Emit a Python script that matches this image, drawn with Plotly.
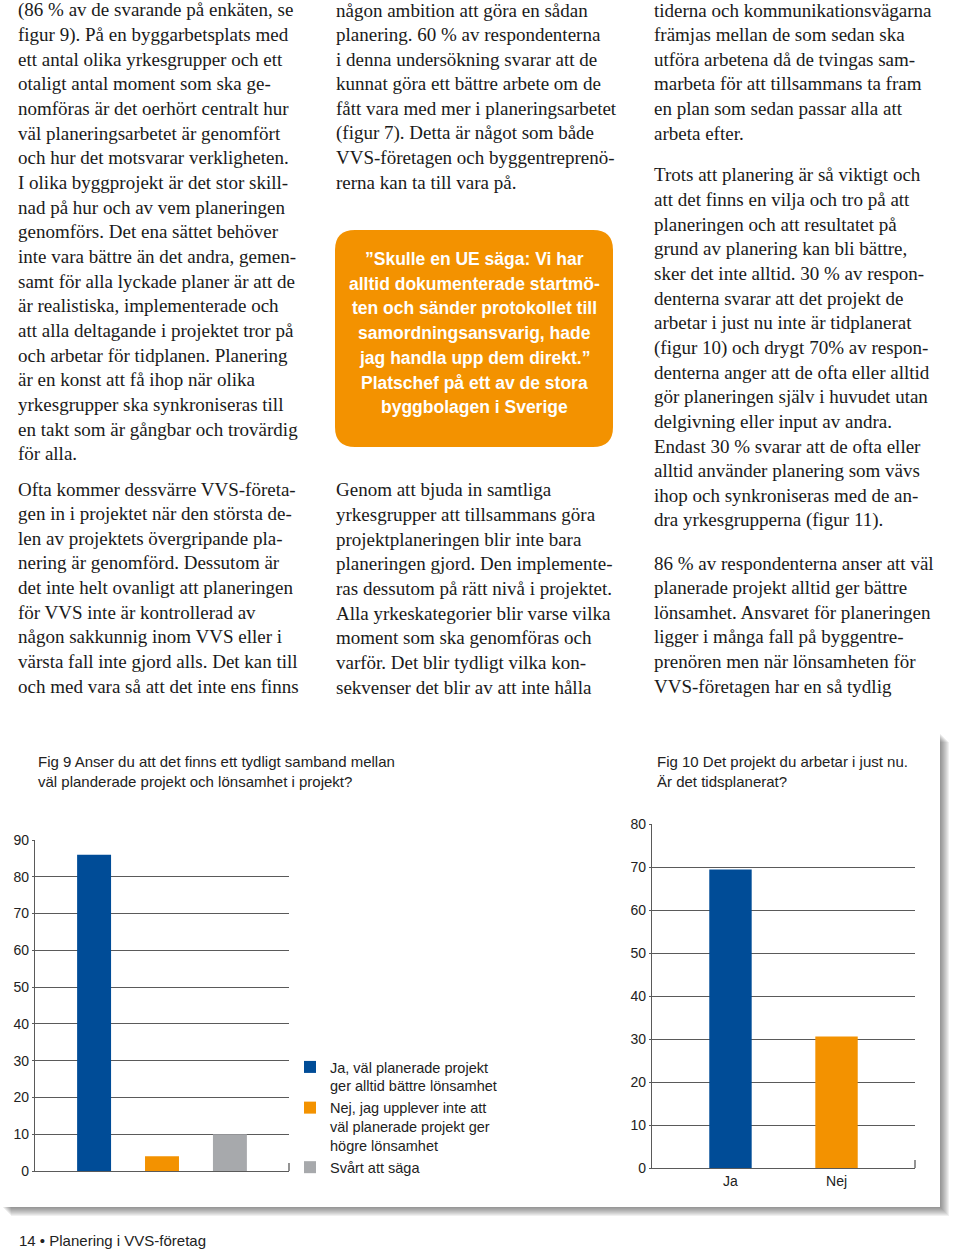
import plotly.graph_objects as go

W, H = 960, 1252


def px(x):
    return x / W


def py(y):
    return 1 - y / H


# ---------------- data ----------------
fig9_categories = ["Ja", "Nej", "Svårt att säga"]
fig9_legend = [
    "Ja, väl planerade projekt<br>ger alltid bättre lönsamhet",
    "Nej, jag upplever inte att<br>väl planerade projekt ger<br>högre lönsamhet",
    "Svårt att säga",
]
fig9_values = [86, 4, 10]
fig9_yticks = [0, 10, 20, 30, 40, 50, 60, 70, 80, 90]

fig10_categories = ["Ja", "Nej"]
fig10_values = [69.4, 30.6]
fig10_yticks = [0, 10, 20, 30, 40, 50, 60, 70, 80]

fig9_title = ["Fig 9 Anser du att det finns ett tydligt samband mellan",
              "väl planderade projekt och lönsamhet i projekt?"]
fig10_title = ["Fig 10 Det projekt du arbetar i just nu.",
               "Är det tidsplanerat?"]

# body text (page layout)
col1_p1 = [
    "(86 % av de svarande på enkäten, se",
    "figur 9). På en byggarbetsplats med",
    "ett antal olika yrkesgrupper och ett",
    "otaligt antal moment som ska ge-",
    "nomföras är det oerhört centralt hur",
    "väl planeringsarbetet är genomfört",
    "och hur det motsvarar verkligheten.",
    "I olika byggprojekt är det stor skill-",
    "nad på hur och av vem planeringen",
    "genomförs. Det ena sättet behöver",
    "inte vara bättre än det andra, gemen-",
    "samt för alla lyckade planer är att de",
    "är realistiska, implementerade och",
    "att alla deltagande i projektet tror på",
    "och arbetar för tidplanen. Planering",
    "är en konst att få ihop när olika",
    "yrkesgrupper ska synkroniseras till",
    "en takt som är gångbar och trovärdig",
    "för alla.",
]
col1_p2 = [
    "Ofta kommer dessvärre VVS-företa-",
    "gen in i projektet när den största de-",
    "len av projektets övergripande pla-",
    "nering är genomförd. Dessutom är",
    "det inte helt ovanligt att planeringen",
    "för VVS inte är kontrollerad av",
    "någon sakkunnig inom VVS eller i",
    "värsta fall inte gjord alls. Det kan till",
    "och med vara så att det inte ens finns",
]
col2_p1 = [
    "någon ambition att göra en sådan",
    "planering. 60 % av respondenterna",
    "i denna undersökning svarar att de",
    "kunnat göra ett bättre arbete om de",
    "fått vara med mer i planeringsarbetet",
    "(figur 7). Detta är något som både",
    "VVS-företagen och byggentreprenö-",
    "rerna kan ta till vara på.",
]
quote_lines = [
    "”Skulle en UE säga: Vi har",
    "alltid dokumenterade startmö-",
    "ten och sänder protokollet till",
    "samordningsansvarig, hade",
    "jag handla upp dem direkt.”",
    "Platschef på ett av de stora",
    "byggbolagen i Sverige",
]
col2_p2 = [
    "Genom att bjuda in samtliga",
    "yrkesgrupper att tillsammans göra",
    "projektplaneringen blir inte bara",
    "planeringen gjord. Den implemente-",
    "ras dessutom på rätt nivå i projektet.",
    "Alla yrkeskategorier blir varse vilka",
    "moment som ska genomföras och",
    "varför. Det blir tydligt vilka kon-",
    "sekvenser det blir av att inte hålla",
]
col3_p1 = [
    "tiderna och kommunikationsvägarna",
    "främjas mellan de som sedan ska",
    "utföra arbetena då de tvingas sam-",
    "marbeta för att tillsammans ta fram",
    "en plan som sedan passar alla att",
    "arbeta efter.",
]
col3_p2 = [
    "Trots att planering är så viktigt och",
    "att det finns en vilja och tro på att",
    "planeringen och att resultatet på",
    "grund av planering kan bli bättre,",
    "sker det inte alltid. 30 % av respon-",
    "denterna svarar att det projekt de",
    "arbetar i just nu inte är tidplanerat",
    "(figur 10) och drygt 70% av respon-",
    "denterna anger att de ofta eller alltid",
    "gör planeringen själv i huvudet utan",
    "delgivning eller input av andra.",
    "Endast 30 % svarar att de ofta eller",
    "alltid använder planering som vävs",
    "ihop och synkroniseras med de an-",
    "dra yrkesgrupperna (figur 11).",
]
col3_p3 = [
    "86 % av respondenterna anser att väl",
    "planerade projekt alltid ger bättre",
    "lönsamhet. Ansvaret för planeringen",
    "ligger i många fall på byggentre-",
    "prenören men när lönsamheten för",
    "VVS-företagen har en så tydlig",
]
footer_text = "14 • Planering i VVS-företag"

# ---------------- styles ----------------
BLUE = "#004C97"
ORANGE = "#F39200"
GREY = "#A7A9AC"
fig9_colors = [BLUE, ORANGE, GREY]
fig10_colors = [BLUE, ORANGE]
GRID = "#5a5a5a"
SANS = "Liberation Sans, Arial, sans-serif"
SERIF = "Liberation Serif, Times New Roman, serif"
TXT = "#1a1a1a"
LINE_STEP = 24.66

fig = go.Figure()

for cat, name, val, col in zip(fig9_categories, fig9_legend, fig9_values, fig9_colors):
    fig.add_trace(go.Bar(
        x=[cat], y=[val], name=name, marker=dict(color=col, line=dict(width=0)),
        width=0.5, xaxis="x", yaxis="y", hoverinfo="name+y",
    ))

fig.add_trace(go.Bar(
    x=fig10_categories, y=fig10_values, marker=dict(color=fig10_colors, line=dict(width=0)),
    width=0.4, xaxis="x2", yaxis="y2", showlegend=False,
))

yaxis_common = dict(
    showgrid=True, gridcolor=GRID, gridwidth=1.3,
    showline=True, linecolor=GRID, linewidth=1.3,
    ticks="outside", ticklen=2, tickcolor=GRID, tickwidth=1.3,
    zeroline=False, tickfont=dict(family=SANS, size=14, color="#222"),
    fixedrange=True,
)
xaxis_common = dict(
    type="category", showgrid=False, showline=True, linecolor=GRID, linewidth=1.3,
    ticks="", zeroline=False, tickfont=dict(family=SANS, size=14, color="#222"),
    fixedrange=True,
)

fig.update_layout(
    width=W, height=H,
    margin=dict(l=0, r=0, t=0, b=0, autoexpand=False),
    paper_bgcolor="white", plot_bgcolor="rgba(0,0,0,0)",
    barmode="overlay",
    xaxis=dict(domain=[px(35), px(289)], range=[-0.87, 2.87], showticklabels=False,
               categoryorder="array", categoryarray=fig9_categories, anchor="y", **xaxis_common),
    yaxis=dict(domain=[py(1171), py(840)], range=[0, 90], tickvals=fig9_yticks, anchor="x",
               **yaxis_common),
    xaxis2=dict(domain=[px(652), px(915)], range=[-0.74, 1.74], showticklabels=True,
                categoryorder="array", categoryarray=fig10_categories, anchor="y2", **xaxis_common),
    yaxis2=dict(domain=[py(1168), py(824)], range=[0, 80], tickvals=fig10_yticks, anchor="x2",
                **yaxis_common),
    showlegend=True,
    legend=dict(
        x=px(290), y=py(1051), xanchor="left", yanchor="top",
        font=dict(family=SANS, size=14.5, color="#222"),
        bgcolor="rgba(0,0,0,0)", valign="top", tracegroupgap=0,
        itemclick=False, itemdoubleclick=False,
    ),
)

shapes = []
# panel shadow
for o in range(1, 10):
    shapes.append(dict(type="rect", xref="paper", yref="paper",
                       x0=px(2 + o), x1=px(940 + o), y0=py(733 + o), y1=py(1207 + o),
                       fillcolor="rgba(60,60,60,0.075)", line=dict(width=0), layer="below"))
shapes.append(dict(type="rect", xref="paper", yref="paper",
                   x0=px(2), x1=px(940), y0=py(733), y1=py(1207),
                   fillcolor="white", line=dict(width=0), layer="below"))
# end ticks on category axes
shapes.append(dict(type="line", xref="paper", yref="paper", x0=px(289), x1=px(289),
                   y0=py(1171), y1=py(1163), line=dict(color=GRID, width=1.3)))
shapes.append(dict(type="line", xref="paper", yref="paper", x0=px(915), x1=px(915),
                   y0=py(1168), y1=py(1160), line=dict(color=GRID, width=1.3)))

# rounded orange quote box
x0, x1, y0, y1, r = 335, 613, 230, 447, 20


def P(x, y):
    return f"{px(x):.5f},{py(y):.5f}"


path = (f"M {P(x0 + r, y0)} L {P(x1 - r, y0)} Q {P(x1, y0)} {P(x1, y0 + r)} "
        f"L {P(x1, y1 - r)} Q {P(x1, y1)} {P(x1 - r, y1)} "
        f"L {P(x0 + r, y1)} Q {P(x0, y1)} {P(x0, y1 - r)} "
        f"L {P(x0, y0 + r)} Q {P(x0, y0)} {P(x0 + r, y0)} Z")
shapes.append(dict(type="path", xref="paper", yref="paper", path=path,
                   fillcolor=ORANGE, line=dict(width=0), layer="below"))
fig.update_layout(shapes=shapes)

annotations = []


def add_lines(lines, x, y_start, step=LINE_STEP, family=SERIF, size=19, color=TXT,
              xanchor="left", weight="normal"):
    for i, t in enumerate(lines):
        annotations.append(dict(
            text=t, x=px(x), y=py(y_start + i * step), xref="paper", yref="paper",
            xanchor=xanchor, yanchor="middle", showarrow=False,
            font=dict(family=family, size=size, color=color, weight=weight),
        ))


BODY_DY = 2
add_lines(col1_p1, 16, 8 + BODY_DY)
add_lines(col1_p2, 16, 487 + BODY_DY)
add_lines(col2_p1, 334, 8 + BODY_DY)
add_lines(col2_p2, 334, 488 + BODY_DY)
add_lines(col3_p1, 652, 8 + BODY_DY)
add_lines(col3_p2, 652, 173 + BODY_DY)
add_lines(col3_p3, 652, 561 + BODY_DY)
add_lines(quote_lines, 474, 259, step=24.7, family=SANS, size=17.5, color="white",
          xanchor="center", weight="bold")
add_lines(fig9_title, 36, 761, step=21, family=SANS, size=15, color="#222")
add_lines(fig10_title, 655, 761, step=21, family=SANS, size=15, color="#222")
add_lines([footer_text], 17, 1240, family=SANS, size=15, color="#222")

fig.update_layout(annotations=annotations)

page_css = (
    "var s=document.createElement('style');"
    "s.textContent='html,body{margin:0;padding:0;overflow:hidden;}"
    ".plotly-graph-div{position:absolute;top:0;left:0;}';"
    "document.head.appendChild(s);"
)
fig.write_html("out.html", config={"displayModeBar": False, "responsive": False},
               post_script=page_css)
